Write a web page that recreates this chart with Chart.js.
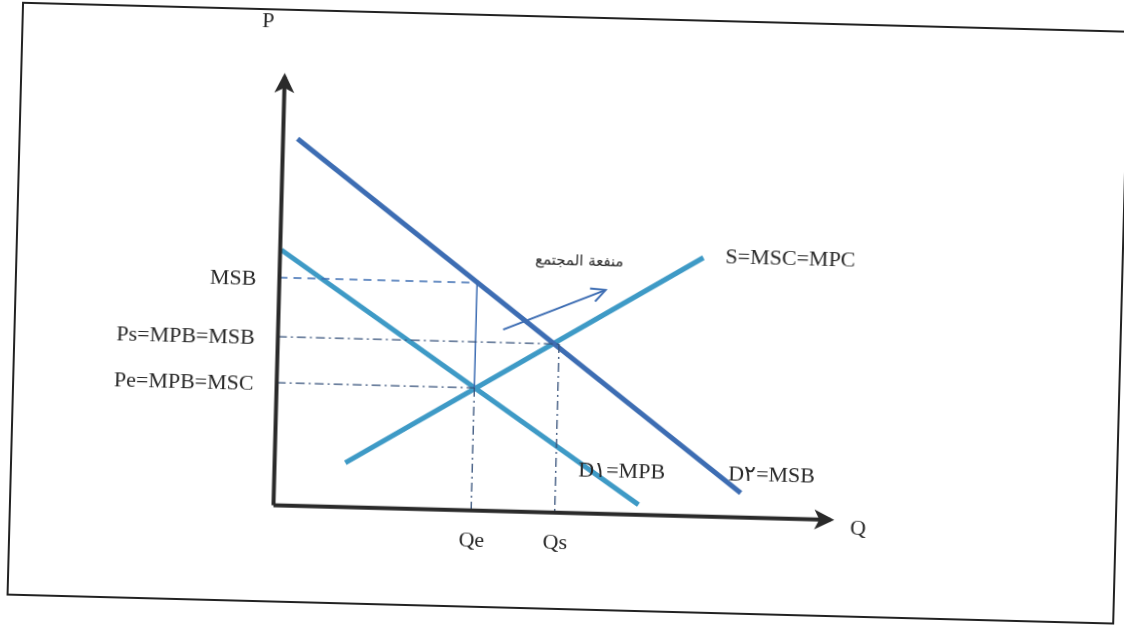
<!DOCTYPE html>
<html>
<head>
<meta charset="utf-8">
<script src="https://cdn.jsdelivr.net/npm/chart.js@4.4.1/dist/chart.umd.min.js"></script>
<style>
  html, body { margin: 0; padding: 0; background: #fff; overflow: hidden; }
  #wrap { width: 1124px; height: 635px; }
  /* the scan is a little crooked, so the whole drawing is turned a bit */
  #chart { transform: rotate(1.5deg); transform-origin: 562px 317.5px; }
</style>
</head>
<body>
<div id="wrap"><canvas id="chart" width="1124" height="635"></canvas></div>
<script>
// axis lengths (data units)
const axisQmax = 10, axisPmax = 8;

// the three curves: end points (Q, P)
const d2Q = [0.26, 8.38], d2P = [6.85, 0.46];   // D2 = MSB
const d1Q = [0.02, 6.55], d1P = [4.77, 0.19];   // D1 = MPB
const sQ  = [1.27, 7.60], sP  = [0.83, 4.83];   // S = MSC = MPC
const curveLabels = ['D\u0662=MSB', 'D\u0661=MPB', 'S=MSC=MPC'];

// price levels on the P axis
const priceLabels = ['MSB', 'Ps=MPB=MSB', 'Pe=MPB=MSC'];
const priceLevels = [4.25, 3.15, 2.29];

// quantities on the Q axis
const qtyLabels = ['Qe', 'Qs'];
const qtyLevels = [3.55, 5.05];

// the little "benefit" arrow
const arrowQ = [4.04, 5.86], arrowP = [3.39, 4.18];
const arrowLabel = 'منفعة المجتمع';

const ink = '#2a2a2a';
const darkBlue = '#3d6db3';
const lightBlue = '#3e9ac6';
const serif = '"Liberation Serif", "Times New Roman", serif';

function pts(xs, ys) {
  return xs.map((x, i) => ({ x: x, y: ys[i] }));
}

const datasets = [
  { id: 'pAxis', data: pts([0, 0], [0, axisPmax]), borderColor: ink, borderWidth: 4 },
  { id: 'qAxis', data: pts([0, axisQmax], [0, 0]), borderColor: ink, borderWidth: 4 },
  // guide lines
  { data: pts([0, qtyLevels[0]], [priceLevels[0], priceLevels[0]]), borderColor: darkBlue, borderWidth: 1.5, borderDash: [8, 6] },
  { data: pts([0, qtyLevels[1]], [priceLevels[1], priceLevels[1]]), borderColor: '#35507a', borderWidth: 1.3, borderDash: [9, 4, 2, 4] },
  { data: pts([0, qtyLevels[0]], [priceLevels[2], priceLevels[2]]), borderColor: '#35507a', borderWidth: 1.3, borderDash: [9, 4, 2, 4] },
  { data: pts([qtyLevels[0], qtyLevels[0]], [priceLevels[0], priceLevels[2]]), borderColor: darkBlue, borderWidth: 1.5 },
  { data: pts([qtyLevels[0], qtyLevels[0]], [priceLevels[2], 0]), borderColor: '#35507a', borderWidth: 1.3, borderDash: [9, 4, 2, 4] },
  { data: pts([qtyLevels[1], qtyLevels[1]], [priceLevels[1], 0]), borderColor: '#35507a', borderWidth: 1.3, borderDash: [9, 4, 2, 4] },
  // curves
  { id: 'D2', data: pts(d2Q, d2P), borderColor: darkBlue, borderWidth: 5 },
  { id: 'D1', data: pts(d1Q, d1P), borderColor: lightBlue, borderWidth: 5 },
  { id: 'S', data: pts(sQ, sP), borderColor: lightBlue, borderWidth: 5 },
  { id: 'benefit', data: pts(arrowQ, arrowP), borderColor: darkBlue, borderWidth: 2 }
];
datasets.forEach(d => { d.showLine = true; d.pointRadius = 0; d.fill = false; });

function lastTwo(chart, idx) {
  const m = chart.getDatasetMeta(idx).data;
  return [m[m.length - 2], m[m.length - 1]];
}

const diagramPlugin = {
  id: 'diagram',
  beforeDraw(chart) {
    const c = chart.ctx;
    c.save();
    c.fillStyle = '#fff';
    c.fillRect(0, 0, chart.width, chart.height);
    // frame round the figure
    c.strokeStyle = '#222';
    c.lineWidth = 2;
    c.strokeRect(15, 17, 1106, 592);
    c.restore();
  },
  afterDatasetsDraw(chart) {
    const c = chart.ctx;
    const xs = chart.scales.x, ys = chart.scales.y;
    c.save();

    // filled arrow heads on the axes
    [0, 1].forEach(i => {
      const [a, b] = lastTwo(chart, i);
      const ang = Math.atan2(b.y - a.y, b.x - a.x);
      c.save();
      c.translate(b.x, b.y);
      c.rotate(ang);
      c.fillStyle = ink;
      c.beginPath();
      c.moveTo(4, 0);
      c.lineTo(-16, -10);
      c.lineTo(-11, 0);
      c.lineTo(-16, 10);
      c.closePath();
      c.fill();
      c.restore();
    });

    // open head on the benefit arrow
    const [a, b] = lastTwo(chart, datasets.length - 1);
    const ang = Math.atan2(b.y - a.y, b.x - a.x);
    c.save();
    c.translate(b.x, b.y);
    c.rotate(ang);
    c.strokeStyle = darkBlue;
    c.lineWidth = 2;
    c.beginPath();
    c.moveTo(-14, -7);
    c.lineTo(0, 0);
    c.lineTo(-14, 7);
    c.stroke();
    c.restore();

    c.fillStyle = ink;
    c.font = '22px ' + serif;
    const ox = xs.getPixelForValue(0), oy = ys.getPixelForValue(0);

    // axis names
    c.textAlign = 'center';
    c.textBaseline = 'middle';
    c.fillText('P', ox - 18, ys.getPixelForValue(axisPmax) - 55);
    c.textAlign = 'left';
    c.fillText('Q', xs.getPixelForValue(axisQmax) + 20, oy + 8);

    // price labels
    c.textAlign = 'right';
    priceLabels.forEach((t, i) => {
      c.fillText(t, ox - 23, ys.getPixelForValue(priceLevels[i]) + 2);
    });

    // quantity labels
    c.textAlign = 'center';
    qtyLabels.forEach((t, i) => {
      c.fillText(t, xs.getPixelForValue(qtyLevels[i]) + 1, oy + 30);
    });

    // curve labels
    c.textAlign = 'left';
    const d2End = { x: xs.getPixelForValue(d2Q[1]), y: ys.getPixelForValue(d2P[1]) };
    const d1End = { x: xs.getPixelForValue(d1Q[1]), y: ys.getPixelForValue(d1P[1]) };
    const sEnd = { x: xs.getPixelForValue(sQ[1]), y: ys.getPixelForValue(sP[1]) };
    c.fillText(curveLabels[0], d2End.x - 13, d2End.y - 18);
    c.fillText(curveLabels[1], d1End.x - 61, d1End.y - 32);
    c.fillText(curveLabels[2], sEnd.x + 22, sEnd.y - 1);

    // arabic label over the arrow
    c.font = '15px "DejaVu Sans", sans-serif';
    c.textAlign = 'center';
    c.fillText(arrowLabel, b.x - 27, b.y - 28);

    c.restore();
  }
};

new Chart(document.getElementById('chart'), {
  type: 'scatter',
  data: { datasets: datasets },
  options: {
    responsive: false,
    animation: false,
    layout: { padding: 0 },
    plugins: { legend: { display: false }, tooltip: { enabled: false } },
    scales: {
      x: { type: 'linear', min: -5, max: 15.18, display: false },
      y: { type: 'linear', min: -2.28, max: 9.57, display: false }
    }
  },
  plugins: [diagramPlugin]
});
</script>
</body>
</html>
